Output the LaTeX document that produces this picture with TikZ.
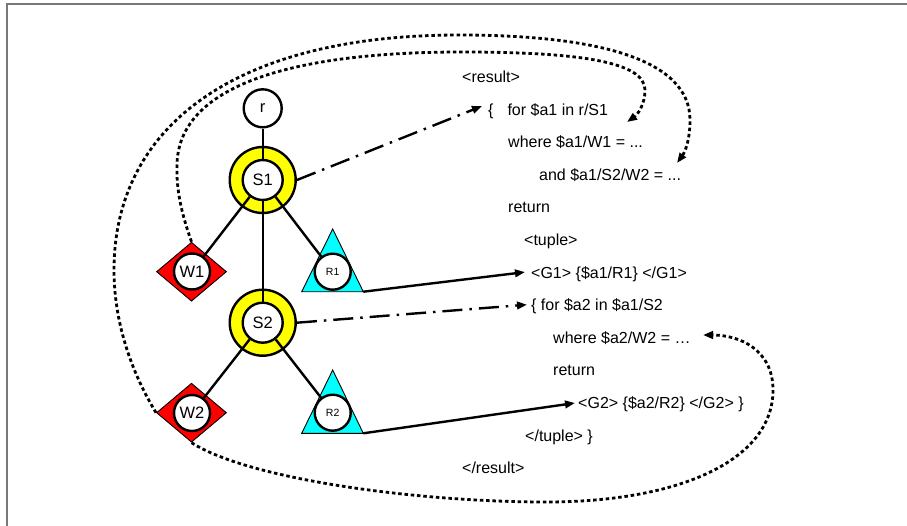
\documentclass[tikz,border=0pt]{standalone}
\usepackage{fontspec}
\setmainfont{Liberation Sans}
\usetikzlibrary{arrows.meta,shapes.geometric}
\pgfdeclarelayer{bg}\pgfdeclarelayer{edges}
\pgfsetlayers{bg,edges,main}
\definecolor{ringyellow}{RGB}{255,255,0}
\definecolor{wred}{RGB}{255,0,0}
\definecolor{rcyan}{RGB}{0,255,255}
\definecolor{framegray}{RGB}{120,120,120}
\begin{document}
\begin{tikzpicture}[x=1pt,y=-1pt,
  inner/.style={circle, draw, line width=2.4pt, fill=white, minimum size=37pt, inner sep=0pt, font=\fontsize{16.5}{16.5}\selectfont},
  smallinner/.style={inner, minimum size=36pt, font=\fontsize{10.5}{10.5}\selectfont},
  ring/.style={circle, draw, line width=2.4pt, fill=ringyellow, minimum size=66pt, inner sep=0pt},
  wdia/.style={diamond, draw, line width=0.9pt, fill=wred, minimum width=70pt, minimum height=59pt, inner sep=0pt},
  tri/.style={draw, line width=0.9pt, fill=rcyan},
  treeedge/.style={line width=2.4pt},
  code/.style={anchor=base west, inner sep=0pt, font=\fontsize{16}{18}\selectfont},
  tip/.style={-{Triangle[length=10pt,width=7.5pt]}},
  dashdot/.style={line width=2.4pt, dash pattern=on 20pt off 7pt on 2.5pt off 7pt, tip},
  solidarrow/.style={line width=2.4pt, tip},
  dotcurve/.style={line width=2.8pt, dash pattern=on 3.5pt off 2.8pt, tip}
]
\useasboundingbox (0,0) rectangle (907,525);
\draw[framegray, line width=1.5pt] (7,530) -- (7,4) -- (910,4);

% background shapes
\begin{pgfonlayer}{bg}
\node[ring] (S1ring) at (262.7,180) {};
\node[ring] (S2ring) at (262.7,322.7) {};
\node[wdia] (W1d) at (191.5,271.7) {};
\node[wdia] (W2d) at (191.5,412.7) {};
\draw[tri] (332.7,229) coordinate (R1top) -- (363.3,291.7) coordinate (R1c) -- (301.7,291.7) coordinate (R1l) -- cycle;
\draw[tri] (332.7,370) coordinate (R2top) -- (363.3,433.3) coordinate (R2c) -- (301.7,433.3) coordinate (R2l) -- cycle;
\end{pgfonlayer}

% inner circles
\node[inner, minimum size=38pt] (r) at (262.7,108.3) {r};
\node[inner, minimum size=40pt] (S1) at (262.7,180) {S1};
\node[inner, minimum size=40pt] (S2) at (262.7,322.7) {S2};
\node[inner, minimum size=36pt] (W1) at (192,271.5) {W1};
\node[inner, minimum size=36pt] (W2) at (192,413) {W2};
\node[smallinner] (R1) at (332.7,271.7) {R1};
\node[smallinner] (R2) at (332.7,412.7) {R2};

% tree edges
\begin{pgfonlayer}{edges}
\draw[treeedge] (r) -- (S1);
\draw[treeedge] (S1) -- (W1);
\draw[treeedge] (S1) -- (S2);
\draw[treeedge] (S1) -- (R1);
\draw[treeedge] (S2) -- (W2);
\draw[treeedge] (S2) -- (R2);
\end{pgfonlayer}

% code text
\node[code] (l0) at (462,82.5) {<result>};
\node[code] (l1) at (488,115.1) {\{\hspace{14pt}for \$a1 in r/S1};
\node[code] (l2) at (508,147.7) {where \$a1/W1 = ...};
\node[code] (l3) at (539,180.3) {and \$a1/S2/W2 = ...};
\node[code] (l4) at (508,212.9) {return};
\node[code] (l5) at (524,245.5) {<tuple>};
\node[code] (l6) at (531,278.1) {<G1> \{\$a1/R1\} </G1>};
\node[code] (l7) at (531,310.7) {\{ for \$a2 in \$a1/S2};
\node[code] (l8) at (553,343.3) {where \$a2/W2 = …};
\node[code] (l9) at (553,375.9) {return};
\node[code] (l10) at (578,408.5) {<G2> \{\$a2/R2\} </G2> \}};
\node[code] (l11) at (525,441.1) {</tuple> \}};
\node[code] (l12) at (462,473.7) {</result>};

% arrow targets
\coordinate (t1) at ([shift={(-6,-9)}]l1.base west);
\coordinate (t6) at ([shift={(-6,-6)}]l6.base west);
\coordinate (t7) at ([shift={(-4,-6)}]l7.base west);
\coordinate (t10) at ([shift={(-3,-5.5)}]l10.base west);

\draw[dashdot] (S1ring.east) -- (t1);
\draw[solidarrow] (R1c) -- (t6);
\draw[dashdot] (S2ring.east) -- (t7);
\draw[solidarrow] (R2c) -- (t10);

% dotted curves
\coordinate (e1) at (627,122);
\coordinate (e2) at (677,163);
\coordinate (e3) at (703,335);
\draw[dotcurve] (W1d.north) .. controls (182,215) and (176,190) .. (177,165)
  .. controls (178,90) and (280,52) .. (462,52)
  .. controls (580,52) and (645,62) .. (645,90)
  .. controls (645,105) and (637,115) .. (e1);
\draw[dotcurve] (W2d.west) .. controls (130,370) and (114,320) .. (114,270)
  .. controls (114,130) and (230,35) .. (459,35)
  .. controls (600,35) and (690,60) .. (690,120)
  .. controls (690,140) and (685,152) .. (e2);
\draw[dotcurve] (W2d.south) .. controls (250,480) and (420,502) .. (546,502)
  .. controls (680,502) and (773,460) .. (773,390)
  .. controls (773,350) and (740,335) .. (e3);
\end{tikzpicture}
\end{document}
